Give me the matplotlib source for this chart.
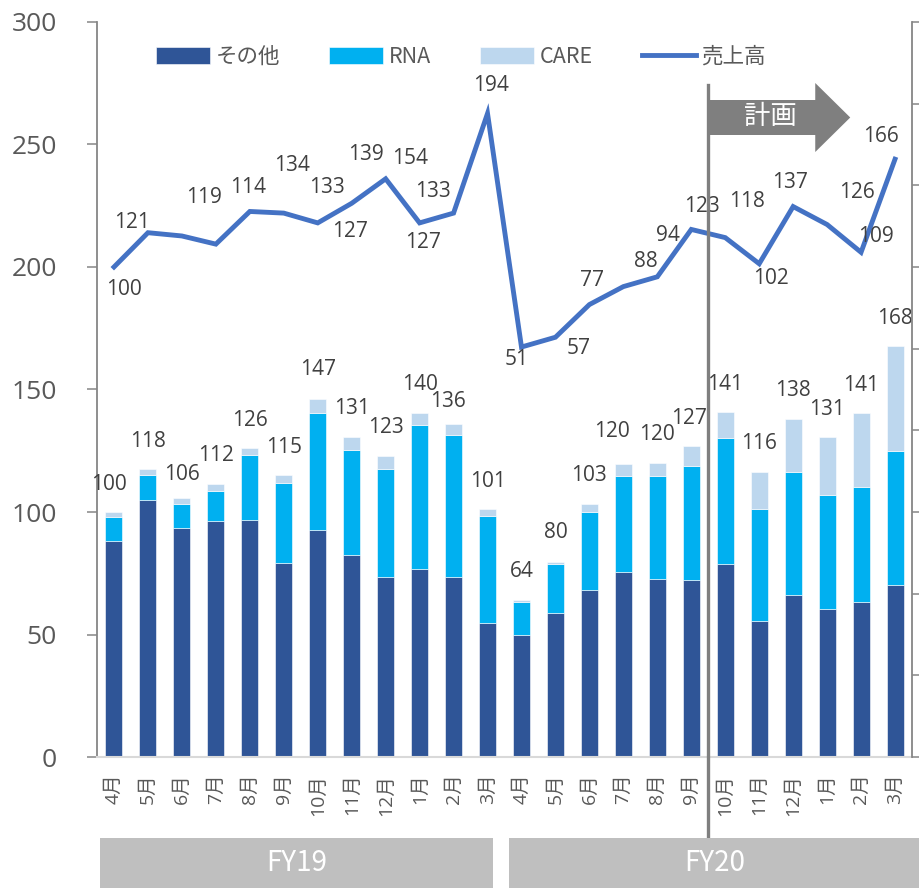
import matplotlib
matplotlib.use("Agg")
import matplotlib.pyplot as plt
from matplotlib.patches import Polygon, Rectangle
from matplotlib.lines import Line2D
import matplotlib.transforms as mtransforms
import numpy as np

plt.rcParams['font.family'] = ['Open Sans', 'Noto Sans CJK JP', 'DejaVu Sans']

# ---------------- data ----------------
months = ['4月', '5月', '6月', '7月', '8月', '9月', '10月', '11月', '12月', '1月', '2月', '3月',
          '4月', '5月', '6月', '7月', '8月', '9月', '10月', '11月', '12月', '1月', '2月', '3月']
other = [88.3, 105.0, 93.6, 96.5, 96.7, 79.3, 92.5, 82.3, 73.3, 76.6, 73.5, 54.8,
         49.9, 58.9, 68.0, 75.4, 72.8, 72.2, 78.9, 55.6, 66.3, 60.5, 63.4, 70.3]
rna = [9.8, 10.1, 9.7, 12.2, 26.4, 32.5, 48.0, 43.0, 44.4, 59.0, 58.1, 43.7,
       13.4, 19.9, 31.9, 39.3, 41.9, 46.6, 51.4, 45.6, 49.9, 46.3, 46.8, 54.5]
care = [1.8, 2.3, 2.5, 2.9, 3.0, 3.3, 5.8, 5.4, 5.2, 4.7, 4.5, 2.7,
        0.8, 0.8, 3.4, 4.8, 5.2, 8.1, 10.4, 15.1, 21.9, 23.7, 30.2, 43.1]
bar_totals = [100, 118, 106, 112, 126, 115, 147, 131, 123, 140, 136, 101,
              64, 80, 103, 120, 120, 127, 141, 116, 138, 131, 141, 168]
sales = [100, 121, 119, 114, 134, 133, 127, 139, 154, 127, 133, 194,
         51, 57, 77, 88, 94, 123, 118, 102, 137, 126, 109, 166]
series_names = ['その他', 'RNA', 'CARE', '売上高']
fy_labels = ['FY19', 'FY20']
plan_label = '計画'

# label placement offsets for the line labels (pixels, +dy = downward)
line_label_off = [(10, 22), (-16, -10), (22, -38), (32, -57), (42, -46), (43, -26),
                  (32, 9), (14, -49), (24, -20), (3, 20), (-21, -22), (3, -28),
                  (-5, 12), (23, 11), (3, -24), (23, -25), (11, -41), (11, -23),
                  (22, -36), (12, 15), (-3, -24), (30, -32), (15, -16), (-14, -23)]
# placement of bar total labels above the bar top (pixels)
bar_label_dx = [-5, 0, 0, 0, 0, 0, 0, 0, 0, 0, -6, 0,
                0, 0, 0, -11, 0, -2, 0, 0, 0, 0, 0, 0]
bar_label_dy = [28, 28, 23, 28, 28, 28, 29, 28, 28, 29, 22, 28,
                28, 29, 28, 33, 29, 28, 28, 29, 28, 28, 28, 27]

# ---------------- style ----------------
c_other = '#2F5597'
c_rna = '#00B0F0'
c_care = '#BDD7EE'
c_line = '#4472C4'
c_text = '#404040'
c_tick = '#595959'
c_grey = '#7F7F7F'

W, H = 920, 888
fig = plt.figure(figsize=(W / 100, H / 100), dpi=100)
ax = fig.add_axes([97 / W, 1 - 757 / H, (912 - 97) / W, (757 - 22) / H])

x = np.arange(len(months))
other_a = np.array(other)
rna_a = np.array(rna)
care_a = np.array(care)
bw = 0.5
ax.bar(x, other_a, bw, color=c_other, edgecolor='white', linewidth=0.4, label=series_names[0], zorder=2)
ax.bar(x, rna_a, bw, bottom=other_a, color=c_rna, edgecolor='white', linewidth=0.4, label=series_names[1], zorder=2)
ax.bar(x, care_a, bw, bottom=other_a + rna_a, color=c_care, edgecolor='white', linewidth=0.4, label=series_names[2], zorder=2)

tops = other_a + rna_a + care_a
for xi, t, lab, dx, dy in zip(x, tops, bar_totals, bar_label_dx, bar_label_dy):
    ax.annotate(str(lab), (xi, t), xytext=(dx * 0.72, dy * 0.72), textcoords='offset points',
                ha='center', va='center', fontsize=15, color=c_text, zorder=5)

ax.set_xlim(-0.5, 23.5)
ax.set_ylim(0, 300)
ax.set_yticks(np.arange(0, 301, 50))
ax.set_xticks(x)
ax.set_xticklabels(months, rotation=90, fontsize=14, color=c_tick)
ax.tick_params(axis='x', length=0, pad=12)
ax.tick_params(axis='y', length=7, width=1.1, color='#868686', labelsize=19,
               labelcolor=c_tick, pad=22, direction='out')
for s in ['top', 'right']:
    ax.spines[s].set_visible(False)
ax.spines['left'].set_color('#868686')
ax.spines['left'].set_linewidth(1.3)
ax.spines['bottom'].set_color('#D9D9D9')
ax.spines['bottom'].set_linewidth(1.5)

# secondary axis for the sales line
ax2 = ax.twinx()
ax2.set_ylim(-200, 250)
ax2.set_yticks(np.arange(-200, 251, 50))
ax2.set_yticklabels([])
ax2.tick_params(axis='y', length=5, width=1.1, color='#868686', direction='out')
for s in ['top', 'left', 'bottom']:
    ax2.spines[s].set_visible(False)
ax2.spines['right'].set_color('#868686')
ax2.spines['right'].set_linewidth(1.3)
ax2.plot(x, sales, color=c_line, linewidth=3.5, solid_joinstyle='miter', zorder=3,
         label=series_names[3])
for xi, v, (dx, dy) in zip(x, sales, line_label_off):
    ax2.annotate(str(v), (xi, v), xytext=(dx * 0.72, -dy * 0.72), textcoords='offset points',
                 ha='center', va='center', fontsize=15, color=c_text, zorder=5)

# plan divider and arrow
blend = mtransforms.blended_transform_factory(ax.transData, ax.transAxes)
xdiv = 17.5
ax2.add_line(Line2D([xdiv, xdiv], [(757 - 865) / 735, (757 - 85) / 735], transform=blend,
                    color=c_grey, linewidth=2.4, clip_on=False, zorder=6))
pxu = 33.96  # pixels per category
def yax(py):
    return (757 - py) / 735
arrow = [(xdiv, yax(100)), (xdiv + 107 / pxu, yax(100)), (xdiv + 107 / pxu, yax(83)),
         (xdiv + 142 / pxu, yax(117.5)), (xdiv + 107 / pxu, yax(152)),
         (xdiv + 107 / pxu, yax(135)), (xdiv, yax(135))]
ax2.add_patch(Polygon(arrow, closed=True, transform=blend, facecolor=c_grey,
                      edgecolor='none', zorder=5, clip_on=False))
ax2.text(xdiv + 62 / pxu, yax(116), plan_label, transform=blend, ha='center', va='center',
         fontsize=19, color='white', zorder=7, family=['Noto Sans CJK JP'])

# fiscal-year boxes below the axis
fblend = mtransforms.blended_transform_factory(ax.transData, fig.transFigure)
fy_spans = [(-0.41, 11.16), (11.63, 23.75)]
for (a, b), lab in zip(fy_spans, fy_labels):
    fig.patches.append(Rectangle((a, 0), b - a, 50 / H, transform=fblend,
                                 facecolor='#BFBFBF', edgecolor='none'))
    fig.text((a + b) / 2, 25 / H, lab, transform=fblend, ha='center', va='center',
             fontsize=20, color='white', family=['Noto Sans CJK JP'])

# legend
h1, l1 = ax.get_legend_handles_labels()
h2, l2 = ax2.get_legend_handles_labels()
fig.legend(h1 + h2, l1 + l2, loc='center', bbox_to_anchor=(461 / W, 1 - 57 / H),
           ncol=4, frameon=False, handlelength=2.5, handleheight=0.85,
           handletextpad=0.25, columnspacing=2.3, labelcolor=c_tick,
           prop={'family': ['Noto Sans CJK JP'], 'size': 15.5})

fig.savefig('out.png', dpi=100)
